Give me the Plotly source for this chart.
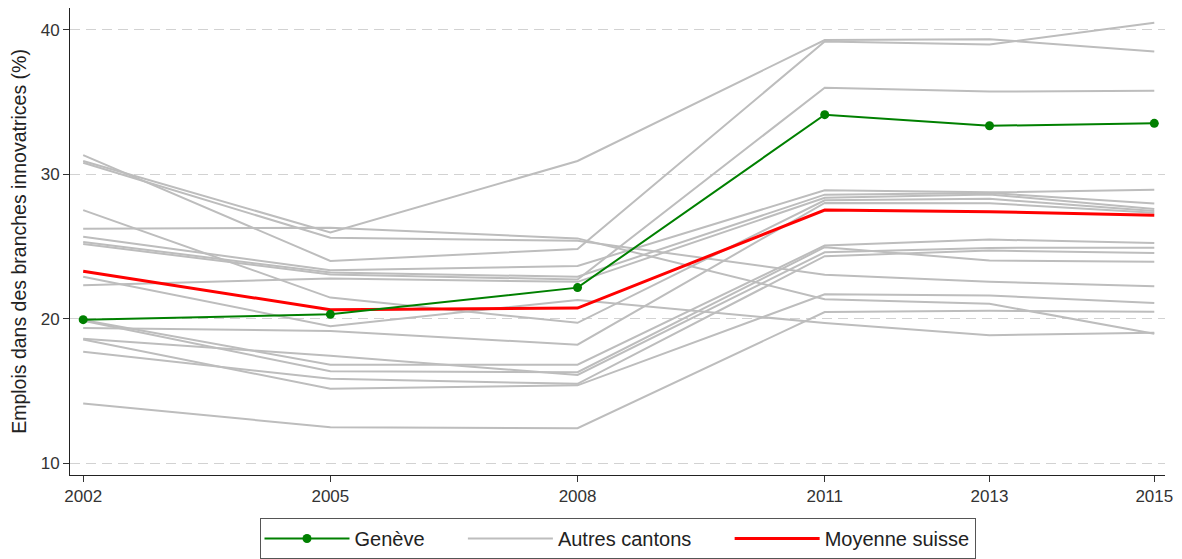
import plotly.graph_objects as go

# =========================================================
# DATA
# =========================================================
YEARS = [2002, 2005, 2008, 2011, 2013, 2015]

GENEVE = [19.93, 20.30, 22.15, 34.13, 33.36, 33.53]
MOYENNE_SUISSE = [23.28, 20.62, 20.73, 27.52, 27.41, 27.16]

# one row per other canton, same order as YEARS
AUTRES_CANTONS = [
    [31.33, 24.00, 24.83, 39.20, 39.00, 40.50],
    [30.92, 25.97, 30.92, 39.30, 39.36, 38.50],
    [30.80, 25.60, 25.40, 23.05, 22.56, 22.24],
    [27.52, 21.46, 19.71, 28.20, 28.30, 27.45],
    [26.22, 26.30, 25.56, 21.35, 21.03, 18.95],
    [25.67, 23.35, 23.65, 28.89, 28.75, 28.93],
    [25.31, 23.19, 22.90, 28.59, 28.70, 27.98],
    [25.17, 23.06, 22.71, 36.00, 35.73, 35.79],
    [22.90, 19.48, 21.30, 19.70, 18.85, 19.02],
    [22.32, 22.78, 22.55, 28.37, 28.60, 27.60],
    [19.36, 19.14, 18.20, 28.02, 28.00, 27.34],
    [18.61, 17.43, 16.10, 24.60, 24.90, 24.92],
    [18.55, 15.15, 15.38, 21.69, 21.60, 21.09],
    [17.70, 15.83, 15.49, 24.33, 24.72, 24.54],
    [14.12, 12.48, 12.41, 20.46, 20.55, 20.48],
    [19.90, 16.81, 16.81, 25.06, 25.48, 25.24],
    [19.85, 16.36, 16.29, 24.95, 24.03, 23.95],
]

Y_TICKS = [10, 20, 30, 40]

# =========================================================
# COLORS / FONTS
# =========================================================
GRAY = "#bdbdbd"
GREEN = "#008000"
RED = "#ff0000"
FONT = "Liberation Sans, Arial, sans-serif"
GAP = "\u00a0" * 6   # extra room between legend entries

fig = go.Figure()

# other cantons
for i, row in enumerate(AUTRES_CANTONS):
    fig.add_trace(go.Scatter(
        x=YEARS, y=row,
        mode="lines",
        line=dict(color=GRAY, width=2),
        name="Autres cantons" + GAP,
        legendgroup="autres",
        showlegend=(i == 0),
        legendrank=2,
        hoverinfo="skip",
    ))

# swiss average
fig.add_trace(go.Scatter(
    x=YEARS, y=MOYENNE_SUISSE,
    mode="lines",
    line=dict(color=RED, width=3),
    name="Moyenne suisse",
    legendrank=3,
))

# Geneva
fig.add_trace(go.Scatter(
    x=YEARS, y=GENEVE,
    mode="lines+markers",
    line=dict(color=GREEN, width=2),
    marker=dict(color=GREEN, size=9),
    name="Genève" + GAP,
    legendrank=1,
))

# page has an 8px body margin, so the figure is sized to fit the window
fig.update_layout(
    width=1174, height=551,
    margin=dict(l=62, r=17, t=0, b=82),
    paper_bgcolor="white",
    plot_bgcolor="white",
    font=dict(family=FONT, size=17, color="#333333"),
    showlegend=True,
    legend=dict(
        orientation="h",
        x=0.5, xanchor="center",
        y=-0.092, yanchor="top",
        bordercolor="#555555", borderwidth=1,
        font=dict(size=20, color="#222222"),
        itemwidth=85,
        tracegroupgap=0,
    ),
    xaxis=dict(
        range=[2001.84, 2015.13],
        tickmode="array",
        tickvals=YEARS,
        ticktext=[str(y) for y in YEARS],
        showgrid=False,
        zeroline=False,
        showline=True, linecolor="#222222", linewidth=1,
        ticks="outside", ticklen=6, tickcolor="#333333",
        tickfont=dict(size=17, color="#333333"),
    ),
    yaxis=dict(
        range=[9.17, 41.52],
        tickmode="array",
        tickvals=Y_TICKS,
        showgrid=True,
        gridcolor="#d2d2d2", gridwidth=1, griddash="10px,6px",
        zeroline=False,
        showline=True, linecolor="#222222", linewidth=1,
        ticks="outside", ticklen=6, tickcolor="#333333",
        tickfont=dict(size=17, color="#333333"),
        title=dict(text="Emplois dans des branches innovatrices (%)",
                   font=dict(size=19.5, color="#222222"), standoff=8),
    ),
)

fig.write_html("out.html")
